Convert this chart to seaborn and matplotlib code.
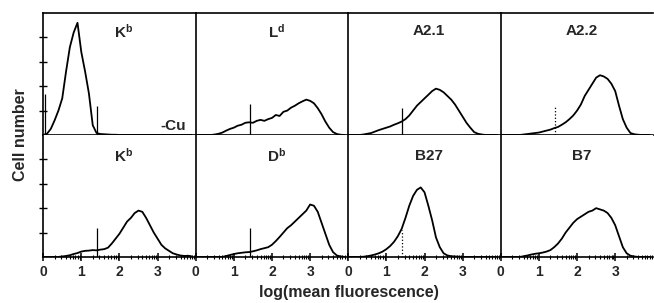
import numpy as np
import matplotlib
matplotlib.use("Agg")
import matplotlib.pyplot as plt
import seaborn as sns

# log(mean fluorescence) grid, 0.0 .. 3.9
log_fl = [round(0.1 * i, 1) for i in range(40)]

# cell-number histograms (arbitrary units, ticks = 1)
kb_cu = [0, 0.05, 0.25, 0.6, 1.0, 1.5, 2.6, 3.6, 4.2, 4.6,
         3.4, 2.6, 1.7, 0.4, 0.08, 0.04, 0.03, 0.02, 0.01, 0.01,
         0, 0, 0, 0, 0, 0, 0, 0, 0, 0, 0, 0, 0, 0, 0, 0, 0, 0, 0, 0]
ld = [0, 0, 0, 0, 0, 0.02, 0.05, 0.1, 0.18, 0.25,
      0.3, 0.38, 0.42, 0.5, 0.52, 0.5, 0.58, 0.62, 0.58, 0.65,
      0.7, 0.82, 0.78, 0.95, 1.0, 1.12, 1.2, 1.3, 1.38, 1.45,
      1.4, 1.3, 1.1, 0.85, 0.55, 0.3, 0.12, 0.04, 0.01, 0]
a21 = [0, 0, 0, 0, 0.02, 0.05, 0.08, 0.14, 0.2, 0.25,
       0.3, 0.35, 0.42, 0.48, 0.55, 0.65, 0.8, 1.0, 1.2, 1.35,
       1.5, 1.65, 1.8, 1.9, 1.85, 1.75, 1.6, 1.45, 1.25, 1.0,
       0.75, 0.5, 0.3, 0.12, 0.05, 0.02, 0, 0, 0, 0]
a22 = [0, 0, 0, 0, 0, 0, 0.02, 0.04, 0.06, 0.08,
       0.1, 0.14, 0.18, 0.22, 0.28, 0.33, 0.42, 0.52, 0.65, 0.8,
       1.0, 1.25, 1.6, 1.85, 2.1, 2.35, 2.45, 2.4, 2.3, 2.1,
       1.8, 1.2, 0.65, 0.3, 0.08, 0.03, 0.01, 0, 0, 0]
kb = [0, 0, 0, 0, 0, 0.02, 0.04, 0.07, 0.12, 0.16,
      0.22, 0.25, 0.26, 0.28, 0.27, 0.3, 0.32, 0.38, 0.55, 0.75,
      0.95, 1.2, 1.45, 1.6, 1.8, 1.9, 1.85, 1.6, 1.3, 1.0,
      0.75, 0.5, 0.35, 0.25, 0.15, 0.1, 0.06, 0.04, 0.05, 0.02]
db = [0, 0, 0, 0, 0, 0, 0, 0, 0.04, 0.08,
      0.12, 0.15, 0.17, 0.19, 0.2, 0.23, 0.27, 0.32, 0.36, 0.4,
      0.5, 0.65, 0.82, 1.0, 1.18, 1.3, 1.45, 1.6, 1.75, 1.9,
      2.15, 2.1, 1.85, 1.4, 0.95, 0.5, 0.2, 0.06, 0.02, 0]
b27 = [0, 0, 0, 0, 0.01, 0.03, 0.06, 0.1, 0.15, 0.22,
       0.32, 0.45, 0.62, 0.85, 1.15, 1.6, 2.1, 2.5, 2.75, 2.85,
       2.65, 2.1, 1.5, 0.8, 0.4, 0.15, 0.06, 0.03, 0.02, 0.01,
       0, 0, 0, 0, 0, 0, 0, 0, 0, 0]
b7 = [0, 0, 0, 0, 0, 0, 0.03, 0.06, 0.1, 0.13,
      0.15, 0.18, 0.22, 0.28, 0.4, 0.55, 0.75, 1.0, 1.2, 1.4,
      1.55, 1.65, 1.75, 1.85, 1.9, 2.0, 1.95, 1.9, 1.8, 1.6,
      1.3, 0.85, 0.4, 0.15, 0.05, 0.02, 0, 0, 0, 0]

series = [kb_cu, ld, a21, a22, kb, db, b27, b7]
labels = [r"$\mathbf{K^b}$", r"$\mathbf{L^d}$", "A2.1", "A2.2",
          r"$\mathbf{K^b}$", r"$\mathbf{D^b}$", "B27", "B7"]
# calibration markers per panel: positions and heights
marker_x = [[0.05, 1.42], [1.42], [1.42], [1.42], [1.42], [1.42], [1.42], []]
marker_h = [[1.7, 1.2], [1.27], [1.1], [1.2], [1.2], [1.2], [1.1], []]
marker_style = ["-", "-", "-", ":", "-", "-", ":", "-"]

sns.set_style("white")
plt.rcParams["font.family"] = ["Liberation Sans", "DejaVu Sans"]
plt.rcParams["font.weight"] = "bold"
plt.rcParams["mathtext.fontset"] = "custom"
plt.rcParams["mathtext.bf"] = "Liberation Sans:bold"
plt.rcParams["mathtext.rm"] = "Liberation Sans:bold"

fig, axes = plt.subplots(2, 4, figsize=(6.54, 3.03), dpi=100, sharex=True, sharey=True)
fig.subplots_adjust(left=0.066, right=0.999, top=0.957, bottom=0.152, wspace=0, hspace=0)

minor = [n + np.log10(k) for n in range(4) for k in range(2, 10)]

for i, ax in enumerate(axes.flat):
    row, col = divmod(i, 4)
    sns.lineplot(x=log_fl, y=series[i], ax=ax, color="black", linewidth=1.3)
    if marker_x[i]:
        ax.vlines(marker_x[i], 0, marker_h[i], color="black", linewidth=0.9,
                  linestyles=marker_style[i])
    ax.set_xlim(0, 4.0)
    ax.set_ylim(0, 5.0)
    ax.text(0.53, 0.85 if row == 0 else 0.83, labels[i], transform=ax.transAxes,
            ha="center", va="center", fontsize=11, fontweight="bold")
    for s in ["left", "bottom", "top"]:
        ax.spines[s].set_color("black")
        ax.spines[s].set_linewidth(1.2)
    ax.spines["left"].set_visible(True)
    ax.spines["bottom"].set_visible(True)
    ax.spines["right"].set_visible(False)
    ax.spines["top"].set_visible(row == 0)
    ax.set_xticks([0, 1, 2, 3])
    ax.set_xticks(minor, minor=True)
    ax.set_yticks([1, 2, 3, 4])
    if row == 1:
        ax.tick_params(axis="x", which="major", bottom=True, direction="inout",
                       length=6, width=1.1, labelsize=10, pad=3, color="black")
        ax.tick_params(axis="x", which="minor", bottom=True, direction="inout",
                       length=3, width=0.8, color="black")
        for t in ax.get_xticklabels():
            t.set_fontweight("bold")
    else:
        ax.tick_params(axis="x", which="both", bottom=False, length=0)
    if col == 0:
        ax.tick_params(axis="y", left=True, direction="inout", length=6, width=1,
                       labelleft=False, color="black")
    else:
        ax.tick_params(axis="y", left=False, length=0, labelleft=False)
    ax.set_xlabel("")
    ax.set_ylabel("")

axes[0, 0].text(3.75, 0.35, "-Cu", ha="right", va="center", fontsize=11, fontweight="bold")

fig.text(0.032, 0.555, "Cell number", rotation=90, ha="center", va="center",
         fontsize=11.5, fontweight="bold")
fig.text(0.533, 0.035, "log(mean fluorescence)", ha="center", va="center",
         fontsize=11.5, fontweight="bold")

fig.savefig("out.png", dpi=100, facecolor="white")
